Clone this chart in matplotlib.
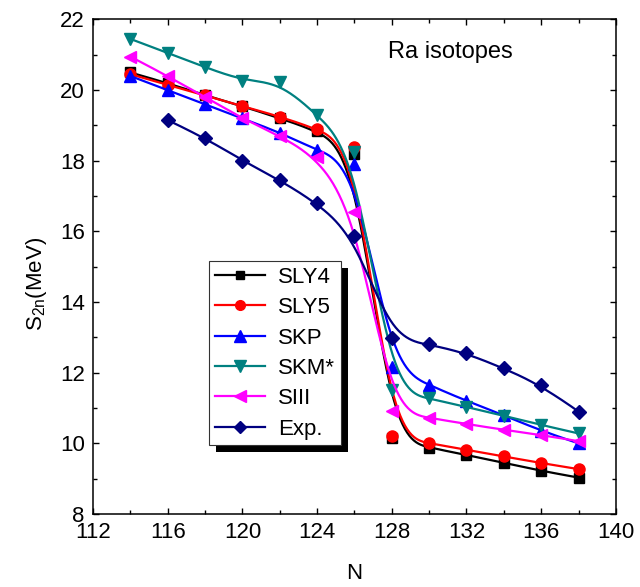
import numpy as np
import matplotlib
matplotlib.use('Agg')
import matplotlib.pyplot as plt
from matplotlib.lines import Line2D
from matplotlib.patches import Rectangle
from matplotlib.transforms import IdentityTransform

plt.rcParams['font.family'] = ['Liberation Sans', 'DejaVu Sans']

# neutron numbers
N = [114, 116, 118, 120, 122, 124, 126, 128, 130, 132, 134, 136, 138]
N_exp = [116, 118, 120, 122, 124, 126, 128, 130, 132, 134, 136, 138]

# S2n values (MeV)
sly4 = [20.5, 20.2, 19.85, 19.55, 19.2, 18.85, 18.2, 10.15, 9.88, 9.67, 9.45, 9.22, 9.03]
sly5 = [20.45, 20.15, 19.85, 19.55, 19.25, 18.9, 18.4, 10.22, 10.0, 9.82, 9.63, 9.44, 9.27]
skp = [20.4, 20.0, 19.6, 19.2, 18.8, 18.3, 17.9, 12.15, 11.65, 11.2, 10.8, 10.35, 10.0]
skm = [21.45, 21.05, 20.65, 20.27, 20.22, 19.3, 18.25, 11.5, 11.27, 11.03, 10.78, 10.52, 10.28]
siii = [20.95, 20.4, 19.8, 19.2, 18.7, 18.1, 16.55, 10.92, 10.72, 10.55, 10.38, 10.24, 10.06]
exp = [19.15, 18.65, 18.0, 17.45, 16.8, 15.87, 12.97, 12.8, 12.55, 12.12, 11.65, 10.9]


def bspline(x, y, num=500, k=3):
    """ open uniform cubic B-spline with the data as control points """
    P = np.column_stack([x, y]).astype(float)
    n = len(P)
    knots = np.concatenate([np.zeros(k), np.linspace(0, 1, n - k + 1), np.ones(k)])
    t = np.linspace(0, 1, num)
    t[-1] -= 1e-9
    B = np.array([(knots[i] <= t) & (t < knots[i + 1]) for i in range(len(knots) - 1)], float)
    for d in range(1, k + 1):
        Bn = np.zeros((len(knots) - 1 - d, len(t)))
        for i in range(len(knots) - 1 - d):
            a = knots[i + d] - knots[i]
            b = knots[i + d + 1] - knots[i + 1]
            term = np.zeros(len(t))
            if a > 0:
                term += (t - knots[i]) / a * B[i]
            if b > 0:
                term += (knots[i + d + 1] - t) / b * B[i + 1]
            Bn[i] = term
        B = Bn
    c = B.T @ P
    return c[:, 0], c[:, 1]


series = [
    ('SLY4', N, sly4, 'black', 's', 7),
    ('SLY5', N, sly5, 'red', 'o', 8),
    ('SKP', N, skp, 'blue', '^', 9),
    ('SKM*', N, skm, '#008080', 'v', 9),
    ('SIII', N, siii, 'magenta', '<', 9),
    ('Exp.', N_exp, exp, '#000080', 'D', 7),
]

fig = plt.figure(figsize=(6.4, 5.87), dpi=100)
ax = fig.add_axes([0.1453, 0.1244, 0.817, 0.8424])

handles = []
for name, xs, ys, col, mk, ms in series:
    cx, cy = bspline(xs, ys)
    ax.plot(cx, cy, color=col, lw=1.6)
    ax.plot(xs, ys, ls='none', marker=mk, ms=ms, color=col, mec=col)
    handles.append(Line2D([], [], color=col, lw=1.6, marker=mk, ms=ms - 1, mec=col, label=name))

ax.set_xlim(112, 140)
ax.set_ylim(8, 22)
ax.set_xticks(range(112, 141, 4))
ax.set_xticks(range(114, 140, 4), minor=True)
ax.set_yticks(range(8, 23, 2))
ax.set_yticks(range(9, 22, 2), minor=True)
ax.tick_params(which='both', direction='in', top=True, right=True, width=1, labelsize=16)
ax.tick_params(which='major', length=4.5, pad=6)
ax.tick_params(which='minor', length=2.6)
for s in ax.spines.values():
    s.set_linewidth(1.1)

ax.set_xlabel('N', fontsize=16, labelpad=14)
ax.set_ylabel(r'S$_{\mathregular{2n}}$(MeV)', fontsize=16)
ax.yaxis.set_label_coords(-0.085, 0.465)
ax.text(0.564, 0.934, 'Ra isotopes', transform=ax.transAxes, fontsize=17, va='center', ha='left')

leg = ax.legend(handles=handles, loc='upper left', bbox_to_anchor=(0.222, 0.511), borderaxespad=0,
                fontsize=16, handlelength=2.25, handletextpad=0.6, labelspacing=0.42,
                fancybox=False, framealpha=1, edgecolor='#333333', borderpad=0.25)
leg.get_frame().set_linewidth(0.8)
leg.set_zorder(5)

# black drop shadow behind the legend box
fig.canvas.draw()
bb = leg.get_window_extent()
shadow = Rectangle((bb.x0 + 7, bb.y0 - 7), bb.width, bb.height, transform=IdentityTransform(),
                   facecolor='black', edgecolor='none', zorder=4.9, clip_on=False)
ax.add_artist(shadow)

fig.savefig('out.png', dpi=100)
